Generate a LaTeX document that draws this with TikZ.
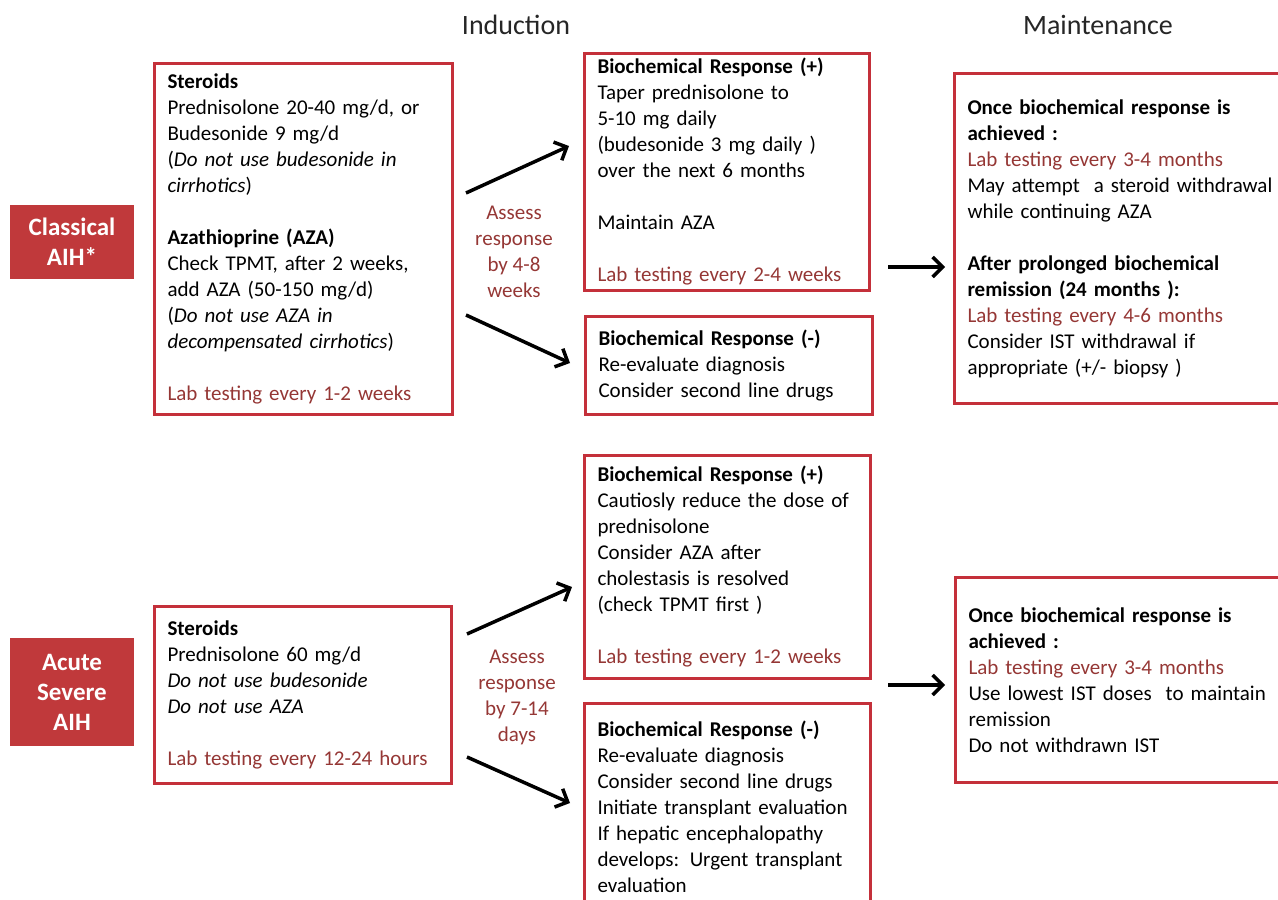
\documentclass[tikz,border=0pt]{standalone}
\usepackage{fontspec}
\setmainfont{Carlito}
\usepackage{tikz}
\usetikzlibrary{arrows.meta}
\definecolor{boxred}{RGB}{196,48,58}
\definecolor{aihred}{RGB}{192,57,59}
\definecolor{labred}{RGB}{149,55,53}
\definecolor{headgray}{RGB}{38,38,38}

\begin{document}
\begin{tikzpicture}[x=1pt, y=-1pt,
        panel/.style={draw=boxred, line width=3pt, anchor=north west, align=left,
            inner xsep=13pt, inner ysep=0pt, font=\fontsize{21}{26}\selectfont},
        aih/.style={fill=aihred, text=white, align=center, minimum width=124pt,
            font=\bfseries\fontsize{25}{30}\selectfont},
        assess/.style={text=labred, align=center, font=\fontsize{21}{26}\selectfont},
        phase/.style={text=headgray, font=\fontsize{28}{34}\selectfont},
        flow/.style={-{Straight Barb[length=10pt,width=20pt]}, line width=3.5pt}]
        \useasboundingbox (0,0) rectangle (1278,900);
        \clip (0,0) rectangle (1278,900);

        \node[phase] (induction) at (516,25) {Induction};
        \node[phase] (maintenance) at (1098,25) {Maintenance};

        \node[aih, minimum height=74pt] (classical) at (72,242) {Classical\\AIH*};
        \node[panel, text width=272pt, minimum height=351pt] (classSteroid) at (153,62)
            {\textbf{Steroids}\\
             Prednisolone 20-40 mg/d, or\\
             Budesonide 9 mg/d\\
             (\textit{Do not use budesonide in}\\
             \textit{cirrhotics})\\[26pt]
             \textbf{Azathioprine (AZA)}\\
             Check TPMT, after 2 weeks,\\
             add AZA (50-150 mg/d)\\
             (\textit{Do not use AZA in}\\
             \textit{decompensated cirrhotics})\\[26pt]
             \textcolor{labred}{Lab testing every 1-2 weeks}};
        \node[assess] (classAssess) at (514,252) {Assess\\response\\by 4-8\\weeks};
        \node[panel, text width=259pt, minimum height=237pt] (classPlus) at (583,52)
            {\textbf{Biochemical Response (+)}\\
             Taper prednisolone to\\
             5-10 mg daily\\
             (budesonide 3 mg daily )\\
             over the next 6 months\\[26pt]
             Maintain AZA\\[26pt]
             \textcolor{labred}{Lab testing every 2-4 weeks}};
        \node[panel, text width=261pt, minimum height=98pt] (classMinus) at (584,315)
            {\textbf{Biochemical Response (-)}\\
             Re-evaluate diagnosis\\
             Consider second line drugs};
        \node[panel, text width=319pt, minimum height=330pt] (classMaint) at (953,72)
            {\textbf{Once biochemical response is}\\
             \textbf{achieved :}\\
             \textcolor{labred}{Lab testing every 3-4 months}\\
             May attempt\ \ a steroid withdrawal\\
             while continuing AZA\\[26pt]
             \textbf{After prolonged biochemical}\\
             \textbf{remission (24 months ):}\\
             \textcolor{labred}{Lab testing every 4-6 months}\\
             Consider IST withdrawal if\\
             appropriate (+/- biopsy )};

        \draw[flow] ([shift={(12,131)}]classSteroid.north east) -- ([shift={(-14,94)}]classPlus.north west);
        \draw[flow] ([shift={(12,253)}]classSteroid.north east) -- ([shift={(-14,48)}]classMinus.north west);
        \draw[flow] ([shift={(17,215)}]classPlus.north east) -- ([shift={(-8,195)}]classMaint.north west);

        \node[aih, minimum height=108pt] (acute) at (72,692) {Acute\\Severe\\AIH};
        \node[panel, text width=271pt, minimum height=177pt] (acuteSteroid) at (153,605)
            {\textbf{Steroids}\\
             Prednisolone 60 mg/d\\
             \textit{Do not use budesonide}\\
             \textit{Do not use AZA}\\[26pt]
             \textcolor{labred}{Lab testing every 12-24 hours}};
        \node[assess] (acuteAssess) at (517,697) {Assess\\response\\by 7-14\\days};
        \node[panel, text width=260pt, minimum height=223pt] (acutePlus) at (583,454)
            {\textbf{Biochemical Response (+)}\\
             Cautiosly reduce the dose of\\
             prednisolone\\
             Consider AZA after\\
             cholestasis is resolved\\
             (check TPMT first )\\[26pt]
             \textcolor{labred}{Lab testing every 1-2 weeks}};
        \node[panel, text width=260pt, minimum height=206pt] (acuteMinus) at (583,702)
            {\textbf{Biochemical Response (-)}\\
             Re-evaluate diagnosis\\
             Consider second line drugs\\
             Initiate transplant evaluation\\
             If hepatic encephalopathy\\
             develops: Urgent transplant\\
             evaluation};
        \node[panel, text width=319pt, minimum height=205pt] (acuteMaint) at (954,576)
            {\textbf{Once biochemical response is}\\
             \textbf{achieved :}\\
             \textcolor{labred}{Lab testing every 3-4 months}\\
             Use lowest IST doses\ \ to maintain\\
             remission\\
             Do not withdrawn IST};

        \draw[flow] ([shift={(14,29)}]acuteSteroid.north east) -- ([shift={(-11,133)}]acutePlus.north west);
        \draw[flow] ([shift={(14,152)}]acuteSteroid.north east) -- ([shift={(-13,101)}]acuteMinus.north west);
        \draw[flow] ([shift={(16,231)}]acutePlus.north east) -- ([shift={(-9,109)}]acuteMaint.north west);
    \end{tikzpicture}
\end{document}
